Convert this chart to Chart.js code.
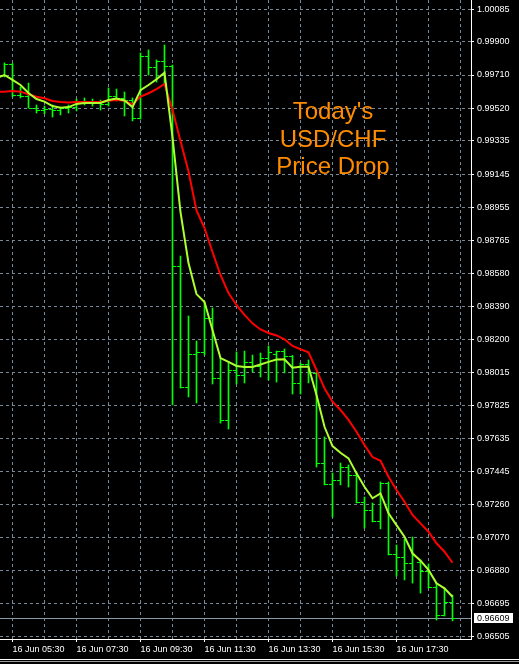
<!DOCTYPE html>
<html>
<head>
<meta charset="utf-8">
<title>USD/CHF M15</title>
<script src="https://cdn.jsdelivr.net/npm/chart.js@4.4.0/dist/chart.umd.min.js"></script>
<style>
  html, body { margin: 0; padding: 0; background: #000; }
  #wrap { width: 519px; height: 664px; position: relative; }
</style>
</head>
<body>
<div id="wrap"><canvas id="priceChart"></canvas></div>
<script>
// 15 minute bars, 16 Jun (one row per hour)
const barTimes = [
  '05:00', '05:15', '05:30', '05:45',
  '06:00', '06:15', '06:30', '06:45',
  '07:00', '07:15', '07:30', '07:45',
  '08:00', '08:15', '08:30', '08:45',
  '09:00', '09:15', '09:30', '09:45',
  '10:00', '10:15', '10:30', '10:45',
  '11:00', '11:15', '11:30', '11:45',
  '12:00', '12:15', '12:30', '12:45',
  '13:00', '13:15', '13:30', '13:45',
  '14:00', '14:15', '14:30', '14:45',
  '15:00', '15:15', '15:30', '15:45',
  '16:00', '16:15', '16:30', '16:45',
  '17:00', '17:15', '17:30', '17:45',
  '18:00', '18:15', '18:30', '18:45',
  '19:00', '19:15'
];

const opens = [
  null, 0.99710, 0.99773, 0.99596,
  0.99590, 0.99522, 0.99510, 0.99516,
  0.99510, 0.99522, 0.99527, 0.99562,
  0.99556, 0.99562, 0.99545, 0.99590,
  0.99579, 0.99567, 0.99465, 0.99818,
  0.99756, 0.99790, 0.99761, 0.98620,
  0.97930, 0.98118, 0.98130, 0.98324,
  0.97981, 0.97742, 0.98027, 0.97998,
  0.98073, 0.98050, 0.98095, 0.98118,
  0.98135, 0.98107, 0.97953, 0.98061,
  0.98010, 0.97496, 0.97376, 0.97399,
  0.97473, 0.97428, 0.97274, 0.97228,
  0.97165, 0.97382, 0.96977, 0.96960,
  0.96926, 0.96931, 0.96880, 0.96789,
  0.96629, 0.96703
];
const highs = [
  null, 0.99779, 0.99776, 0.99642,
  0.99664, 0.99539, 0.99533, 0.99539,
  0.99527, 0.99539, 0.99573, 0.99579,
  0.99573, 0.99567, 0.99636, 0.99630,
  0.99613, 0.99579, 0.99836, 0.99853,
  0.99796, 0.99881, 0.99767, 0.98677,
  0.98335, 0.98192, 0.98415, 0.98381,
  0.98095, 0.98073, 0.98130, 0.98135,
  0.98112, 0.98124, 0.98164, 0.98135,
  0.98147, 0.98110, 0.98067, 0.98084,
  0.98015, 0.97645, 0.97439, 0.97496,
  0.97485, 0.97445, 0.97302, 0.97268,
  0.97388, 0.97388, 0.97028, 0.97063,
  0.97074, 0.96943, 0.96920, 0.96811,
  0.96783, 0.96743
];
const lows = [
  null, 0.99699, 0.99585, 0.99579,
  0.99522, 0.99493, 0.99488, 0.99470,
  0.99482, 0.99493, 0.99505, 0.99539,
  0.99533, 0.99510, 0.99533, 0.99562,
  0.99476, 0.99448, 0.99459, 0.99710,
  0.99670, 0.99653, 0.97827, 0.97924,
  0.97873, 0.97839, 0.98112, 0.97947,
  0.97724, 0.97690, 0.97947, 0.97953,
  0.98015, 0.97987, 0.97970, 0.97958,
  0.98010, 0.97890, 0.97890, 0.97953,
  0.97473, 0.97371, 0.97188, 0.97371,
  0.97359, 0.97268, 0.97125, 0.97160,
  0.97120, 0.96971, 0.96851, 0.96829,
  0.96811, 0.96754, 0.96783, 0.96600,
  0.96623, 0.96595
];
const closes = [
  null, 0.99773, 0.99596, 0.99590,
  0.99524, 0.99510, 0.99516, 0.99510,
  0.99522, 0.99527, 0.99562, 0.99556,
  0.99562, 0.99545, 0.99590, 0.99579,
  0.99567, 0.99465, 0.99818, 0.99756,
  0.99790, 0.99761, 0.98620, 0.97930,
  0.98118, 0.98130, 0.98324, 0.97981,
  0.97742, 0.98027, 0.97998, 0.98073,
  0.98050, 0.98095, 0.98130, 0.98135,
  0.98107, 0.97953, 0.98061, 0.98015,
  0.97496, 0.97376, 0.97399, 0.97473,
  0.97428, 0.97274, 0.97228, 0.97165,
  0.97382, 0.96977, 0.96960, 0.96926,
  0.96971, 0.96880, 0.96789, 0.96629,
  0.96703, 0.96609
];

// moving averages as drawn on the chart
const fastMa = [
  0.99693, 0.99710, 0.99682, 0.99653,
  0.99607, 0.99573, 0.99558, 0.99533,
  0.99523, 0.99527, 0.99545, 0.99550,
  0.99550, 0.99550, 0.99567, 0.99576,
  0.99565, 0.99526, 0.99624, 0.99653,
  0.99686, 0.99723, 0.99356, 0.98928,
  0.98637, 0.98460, 0.98415, 0.98255,
  0.98095, 0.98073, 0.98050, 0.98044,
  0.98044, 0.98058, 0.98073, 0.98087,
  0.98088, 0.98040, 0.98046, 0.98046,
  0.97884, 0.97703, 0.97593, 0.97555,
  0.97523, 0.97437, 0.97361, 0.97295,
  0.97323, 0.97209, 0.97142, 0.97076,
  0.96981, 0.96939, 0.96886, 0.96810,
  0.96781, 0.96733
];
const slowMa = [
  0.99613, 0.99615, 0.99619, 0.99615,
  0.99600, 0.99586, 0.99577, 0.99562,
  0.99556, 0.99553, 0.99556, 0.99556,
  0.99556, 0.99556, 0.99563, 0.99567,
  0.99563, 0.99542, 0.99587, 0.99606,
  0.99630, 0.99659, 0.99510, 0.99333,
  0.99159, 0.98937, 0.98837, 0.98700,
  0.98569, 0.98466, 0.98398, 0.98341,
  0.98293, 0.98258, 0.98238, 0.98224,
  0.98202, 0.98164, 0.98145, 0.98128,
  0.98027, 0.97922, 0.97846, 0.97799,
  0.97742, 0.97675, 0.97599, 0.97530,
  0.97509, 0.97418, 0.97342, 0.97275,
  0.97200, 0.97152, 0.97104, 0.97038,
  0.96990, 0.96927
];

const priceTicks = [
  1.00085, 0.99900, 0.99710, 0.99520, 0.99335, 0.99145, 0.98955,
  0.98765, 0.98580, 0.98390, 0.98200, 0.98015, 0.97825, 0.97635,
  0.97445, 0.97260, 0.97070, 0.96880, 0.96695, 0.96505
];
const tickTimes = ['05:30', '07:30', '09:30', '11:30', '13:30', '15:30', '17:30'];
const lastPrice = 0.96609;
const noteLines = ["Today's", 'USD/CHF', 'Price Drop'];

const labels = barTimes.map((_, i) => i);
const ranges = lows.map((lo, i) => lo === null ? null : [lo, highs[i]]);

Chart.defaults.font.family = '"Liberation Sans", Arial, sans-serif';
Chart.defaults.font.size = 9;

// open tick on the left, close tick on the right, plus the bid line
const ohlcTicks = {
  id: 'ohlcTicks',
  beforeDatasetsDraw(chart) {
    const { ctx, chartArea: a, scales: { x, y } } = chart;
    ctx.save();
    ctx.beginPath();
    ctx.rect(a.left, a.top, a.width, a.height);
    ctx.clip();

    const by = Math.floor(y.getPixelForValue(lastPrice)) + 0.5;
    ctx.strokeStyle = '#8899aa';
    ctx.lineWidth = 1;
    ctx.beginPath();
    ctx.moveTo(a.left, by);
    ctx.lineTo(a.right, by);
    ctx.stroke();

    ctx.strokeStyle = '#00ff00';
    ctx.beginPath();
    opens.forEach((o, i) => {
      if (o === null) return;
      const px = Math.floor(x.getPixelForValue(i));
      const yo = Math.round(y.getPixelForValue(o)) + 0.5;
      const yc = Math.round(y.getPixelForValue(closes[i])) + 0.5;
      ctx.moveTo(px - 3, yo);
      ctx.lineTo(px, yo);
      ctx.moveTo(px + 1, yc);
      ctx.lineTo(px + 4, yc);
    });
    ctx.stroke();
    ctx.restore();
  }
};

const overlay = {
  id: 'overlay',
  afterDraw(chart) {
    const { ctx, chartArea: a, scales: { y } } = chart;
    const py = y.getPixelForValue(lastPrice);
    ctx.save();
    ctx.fillStyle = '#ffffff';
    ctx.fillRect(a.right + 3, Math.round(py) - 5, 39, 10);
    ctx.fillStyle = '#000000';
    ctx.font = '9px "Liberation Sans"';
    ctx.textBaseline = 'middle';
    ctx.fillText(lastPrice.toFixed(5), a.right + 6, Math.round(py) + 0.5);

    ctx.fillStyle = '#ff8c00';
    ctx.font = '24px "Liberation Sans"';
    ctx.textAlign = 'center';
    ctx.textBaseline = 'alphabetic';
    noteLines.forEach((t, k) => ctx.fillText(t, 333, 119 + k * 27.5));

    ctx.fillStyle = '#ffffff';
    ctx.fillRect(0, 659, chart.width, 1);
    ctx.fillStyle = '#9a9a9a';
    ctx.fillRect(0, 661, chart.width, 1);
    ctx.restore();
  }
};

new Chart(document.getElementById('priceChart'), {
  type: 'bar',
  data: {
    labels: labels,
    datasets: [
      {
        type: 'line', label: 'fast MA', data: fastMa,
        borderColor: '#adff2f', borderWidth: 2, pointRadius: 0, tension: 0, order: 0
      },
      {
        type: 'line', label: 'slow MA', data: slowMa,
        borderColor: '#ff0000', borderWidth: 2, pointRadius: 0, tension: 0, order: 1
      },
      {
        type: 'bar', label: 'range', data: ranges,
        backgroundColor: '#00ff00', barThickness: 1, grouped: false, order: 2
      }
    ]
  },
  options: {
    responsive: true,
    maintainAspectRatio: false,
    animation: false,
    layout: { padding: 0 },
    plugins: {
      legend: { display: false },
      tooltip: { enabled: false }
    },
    scales: {
      x: {
        type: 'linear',
        min: 0.4375,
        max: 59.3125,
        offset: false,
        grid: {
          color: '#778899',
          offset: false,
          tickLength: 3,
          tickColor: c => (c.tick && c.tick.label) ? '#ffffff' : 'rgba(0,0,0,0)'
        },
        border: { display: true, color: '#ffffff', dash: [3, 3] },
        afterBuildTicks: scale => {
          const ticks = [];
          for (let j = barTimes.indexOf('05:30'); j <= scale.max; j += 4) ticks.push({ value: j });
          scale.ticks = ticks;
        },
        afterFit: scale => {
          scale.height = 25;
          scale.paddingLeft = 0;
          scale.paddingRight = 0;
        },
        ticks: {
          color: '#ffffff',
          autoSkip: false,
          maxRotation: 0,
          align: 'start',
          padding: 2,
          callback: v => tickTimes.includes(barTimes[v]) ? '16 Jun ' + barTimes[v] : ''
        }
      },
      y: {
        type: 'linear',
        position: 'right',
        min: 0.96492,
        max: 1.00138,
        grid: { color: '#778899', tickLength: 3, tickColor: '#ffffff' },
        border: { display: true, color: '#ffffff', dash: [3, 3] },
        afterBuildTicks: scale => {
          scale.ticks = priceTicks.map(v => ({ value: v }));
        },
        afterFit: scale => {
          scale.width = 48;
          scale.paddingTop = 0;
          scale.paddingBottom = 0;
        },
        ticks: {
          color: '#ffffff',
          autoSkip: false,
          padding: 3,
          callback: v => v.toFixed(5)
        }
      }
    }
  },
  plugins: [ohlcTicks, overlay]
});
</script>
</body>
</html>
